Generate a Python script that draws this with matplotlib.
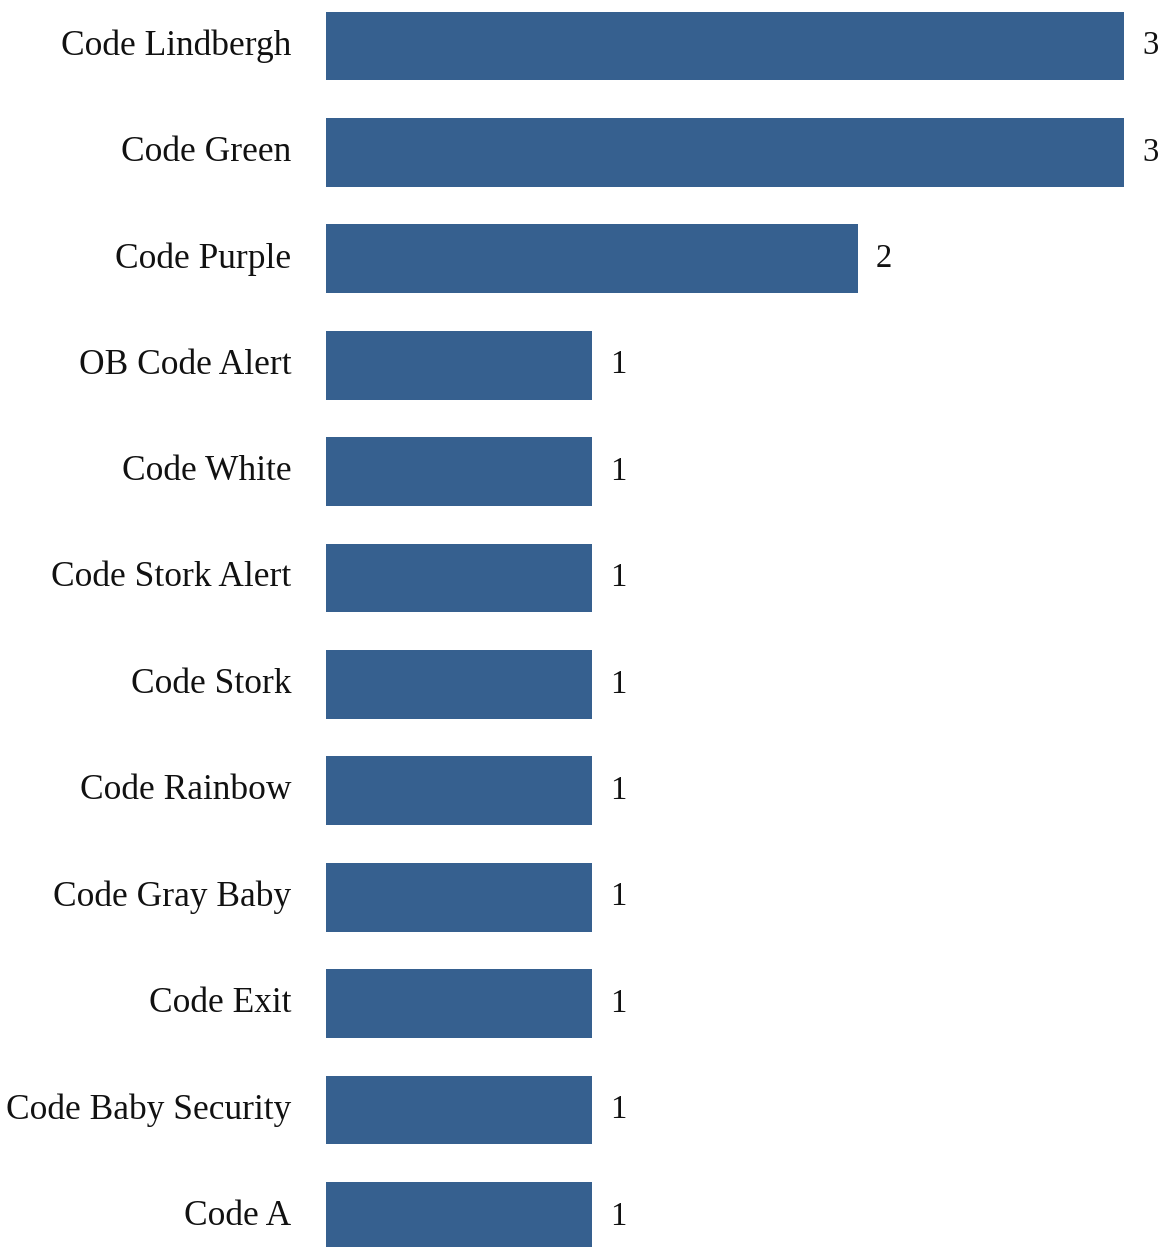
import matplotlib
matplotlib.use("Agg")
import matplotlib.pyplot as plt

categories = ["Code Lindbergh", "Code Green", "Code Purple", "OB Code Alert",
              "Code White", "Code Stork Alert", "Code Stork", "Code Rainbow",
              "Code Gray Baby", "Code Exit", "Code Baby Security", "Code A"]
values = [3, 3, 2, 1, 1, 1, 1, 1, 1, 1, 1, 1]

W, H = 1162, 1247
fig = plt.figure(figsize=(W / 100, H / 100), dpi=100)
left_px, right_px = 326, 1124
ax = fig.add_axes([left_px / W, 0, (right_px - left_px) / W, 1])

step = 106.4
first_c = 46
ytop = -first_c / step
ybot = (H - first_c) / step

y = list(range(len(categories)))
ax.barh(y, values, height=0.645, color="#36608F")
ax.set_xlim(0, 3)
ax.set_ylim(ybot, ytop)

font = "Liberation Serif"
ax.set_yticks(y)
ax.set_yticklabels(categories, fontsize=25.5, family=font, color="#111111",
                   va="center")
ax.tick_params(axis="y", length=0, pad=25)
ax.set_xticks([])
for s in ax.spines.values():
    s.set_visible(False)

for yi, v in zip(y, values):
    ax.annotate(str(v), (v, yi), xytext=(13, 0), textcoords="offset points",
                va="center", ha="left", fontsize=23.5, family=font,
                color="#111111", annotation_clip=False)

fig.savefig("out.png", dpi=100)
